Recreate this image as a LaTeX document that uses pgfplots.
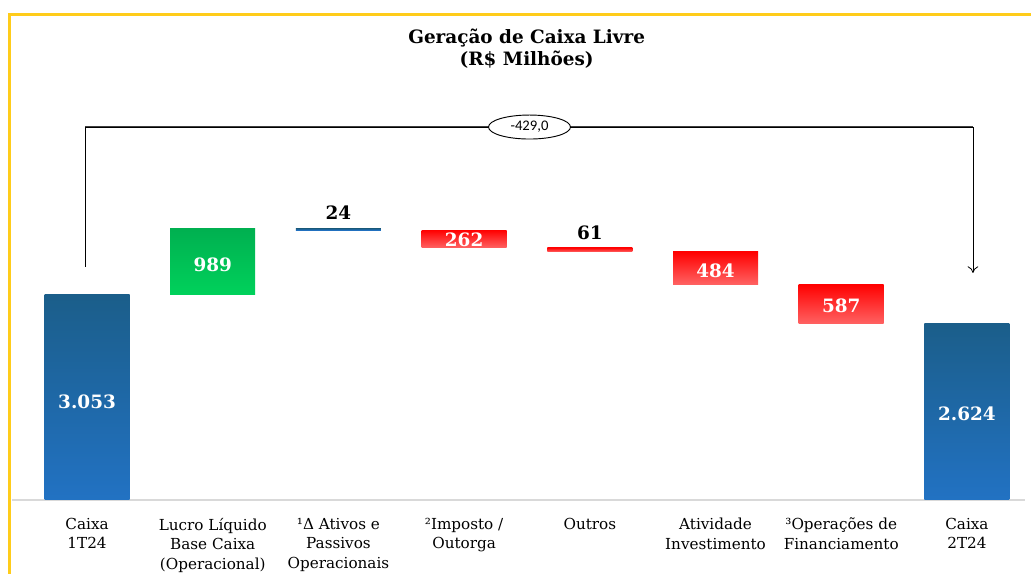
\documentclass[border=0pt]{standalone}
\usepackage{fontspec}
\setmainfont{DejaVu Serif}
\newfontfamily\calib{Carlito}
\usepackage{pgfplots}
\pgfplotsset{compat=1.18}
\usetikzlibrary{arrows.meta, shapes.geometric}
\definecolor{gold}{HTML}{FFCC1A}
\definecolor{blueTop}{HTML}{1B5E8A}
\definecolor{blueBot}{HTML}{2272C3}
\definecolor{greenTop}{HTML}{00B050}
\definecolor{greenBot}{HTML}{00D15B}
\definecolor{redTop}{HTML}{FF0000}
\definecolor{redBot}{HTML}{FF6262}
\tikzset{
  vallab/.style = {font=\bfseries\fontsize{13.8}{15}\selectfont, anchor=center, inner sep=0pt},
  bluebar/.style = {draw=none, top color=blueTop, middle color=blueTop, bottom color=blueBot},
  greenbar/.style = {draw=none, top color=greenTop, middle color=greenBot, bottom color=greenBot},
  redbar/.style = {draw=none, top color=redTop, bottom color=redBot},
}

\begin{document}
\begin{tikzpicture}
\path[use as bounding box] (0,0) rectangle (773.25pt,430.5pt);
% yellow frame
\draw[gold, line width=2.25pt] (6.75pt,-2pt) -- (6.75pt,419.25pt) -- (776pt,419.25pt);
% title
\node[font=\bfseries\fontsize{13.8}{16.5}\selectfont, align=center] at (395pt,393.75pt)
  {Geração de Caixa Livre\\(R\$ Milhões)};

\begin{axis}[
  at={(9pt,55.5pt)}, anchor=south west,
  scale only axis,
  width=759.75pt, height=302.25pt,
  xmin=-0.597, xmax=7.462,
  ymin=0, ymax=6000,
  ybar stacked,
  stack negative=on previous,
  reverse stacked plots=false,
  bar width=63.75pt,
  axis x line*=bottom,
  axis y line=none,
  x axis line style={draw=black!15, line width=1.2pt},
  xtick={0,...,7},
  xticklabels={
    {Caixa\\1T24},
    {Lucro Líquido\\Base Caixa\\(Operacional)},
    {¹Δ Ativos e\\Passivos\\Operacionais},
    {²Imposto /\\Outorga},
    {Outros},
    {Atividade\\Investimento},
    {³Operações de\\Financiamento},
    {Caixa\\2T24}},
  xticklabel style={font=\fontsize{11.4}{14.6}\selectfont, align=center, anchor=north, yshift=-10pt},
  major tick length=0pt,
  clip=false,
]
% waterfall: each step stacks on the running total
\addplot[bluebar]  coordinates {(0,3053)};
\addplot[greenbar] coordinates {(1,989)};
\addplot[bluebar]  coordinates {(2,-24)};
\addplot[redbar]   coordinates {(3,-262)};
\addplot[redbar]   coordinates {(4,-61)};
\addplot[redbar]   coordinates {(5,-484)};
\addplot[redbar]   coordinates {(6,-587)};
% closing cash: drop the running total to zero, then draw from the baseline
\addplot[draw=none, fill=none] coordinates {(7,-2624)};
\addplot[bluebar]  coordinates {(7,2624)};

% value labels
\node[vallab, white] at (axis cs:0,1460) {3.053};
\node[vallab, white] at (axis cs:1,3500) {989};
\node[vallab, black] at (axis cs:2,4273) {24};
\node[vallab, white] at (axis cs:3,3871) {262};
\node[vallab, black] at (axis cs:4,3975) {61};
\node[vallab, white] at (axis cs:5,3409) {484};
\node[vallab, white] at (axis cs:6,2888) {587};
\node[vallab, white] at (axis cs:7,1280) {2.624};

% bracket with total change
\draw[black!75, line width=0.9pt] (axis cs:-0.016,5553) -- (axis cs:7.048,5553);
\draw[black, line width=0.6pt, -{To[length=5pt,width=8pt]}]
  (axis cs:-0.016,3469) |- (axis cs:7.048,5553) -- (axis cs:7.048,3380);
\node[ellipse, draw, line width=0.7pt, fill=white, minimum width=61.5pt, minimum height=18pt, inner sep=0pt,
  font=\calib\fontsize{11}{12}\selectfont] at (axis cs:3.52,5553) {-429,0};
\end{axis}
\end{tikzpicture}
\end{document}
